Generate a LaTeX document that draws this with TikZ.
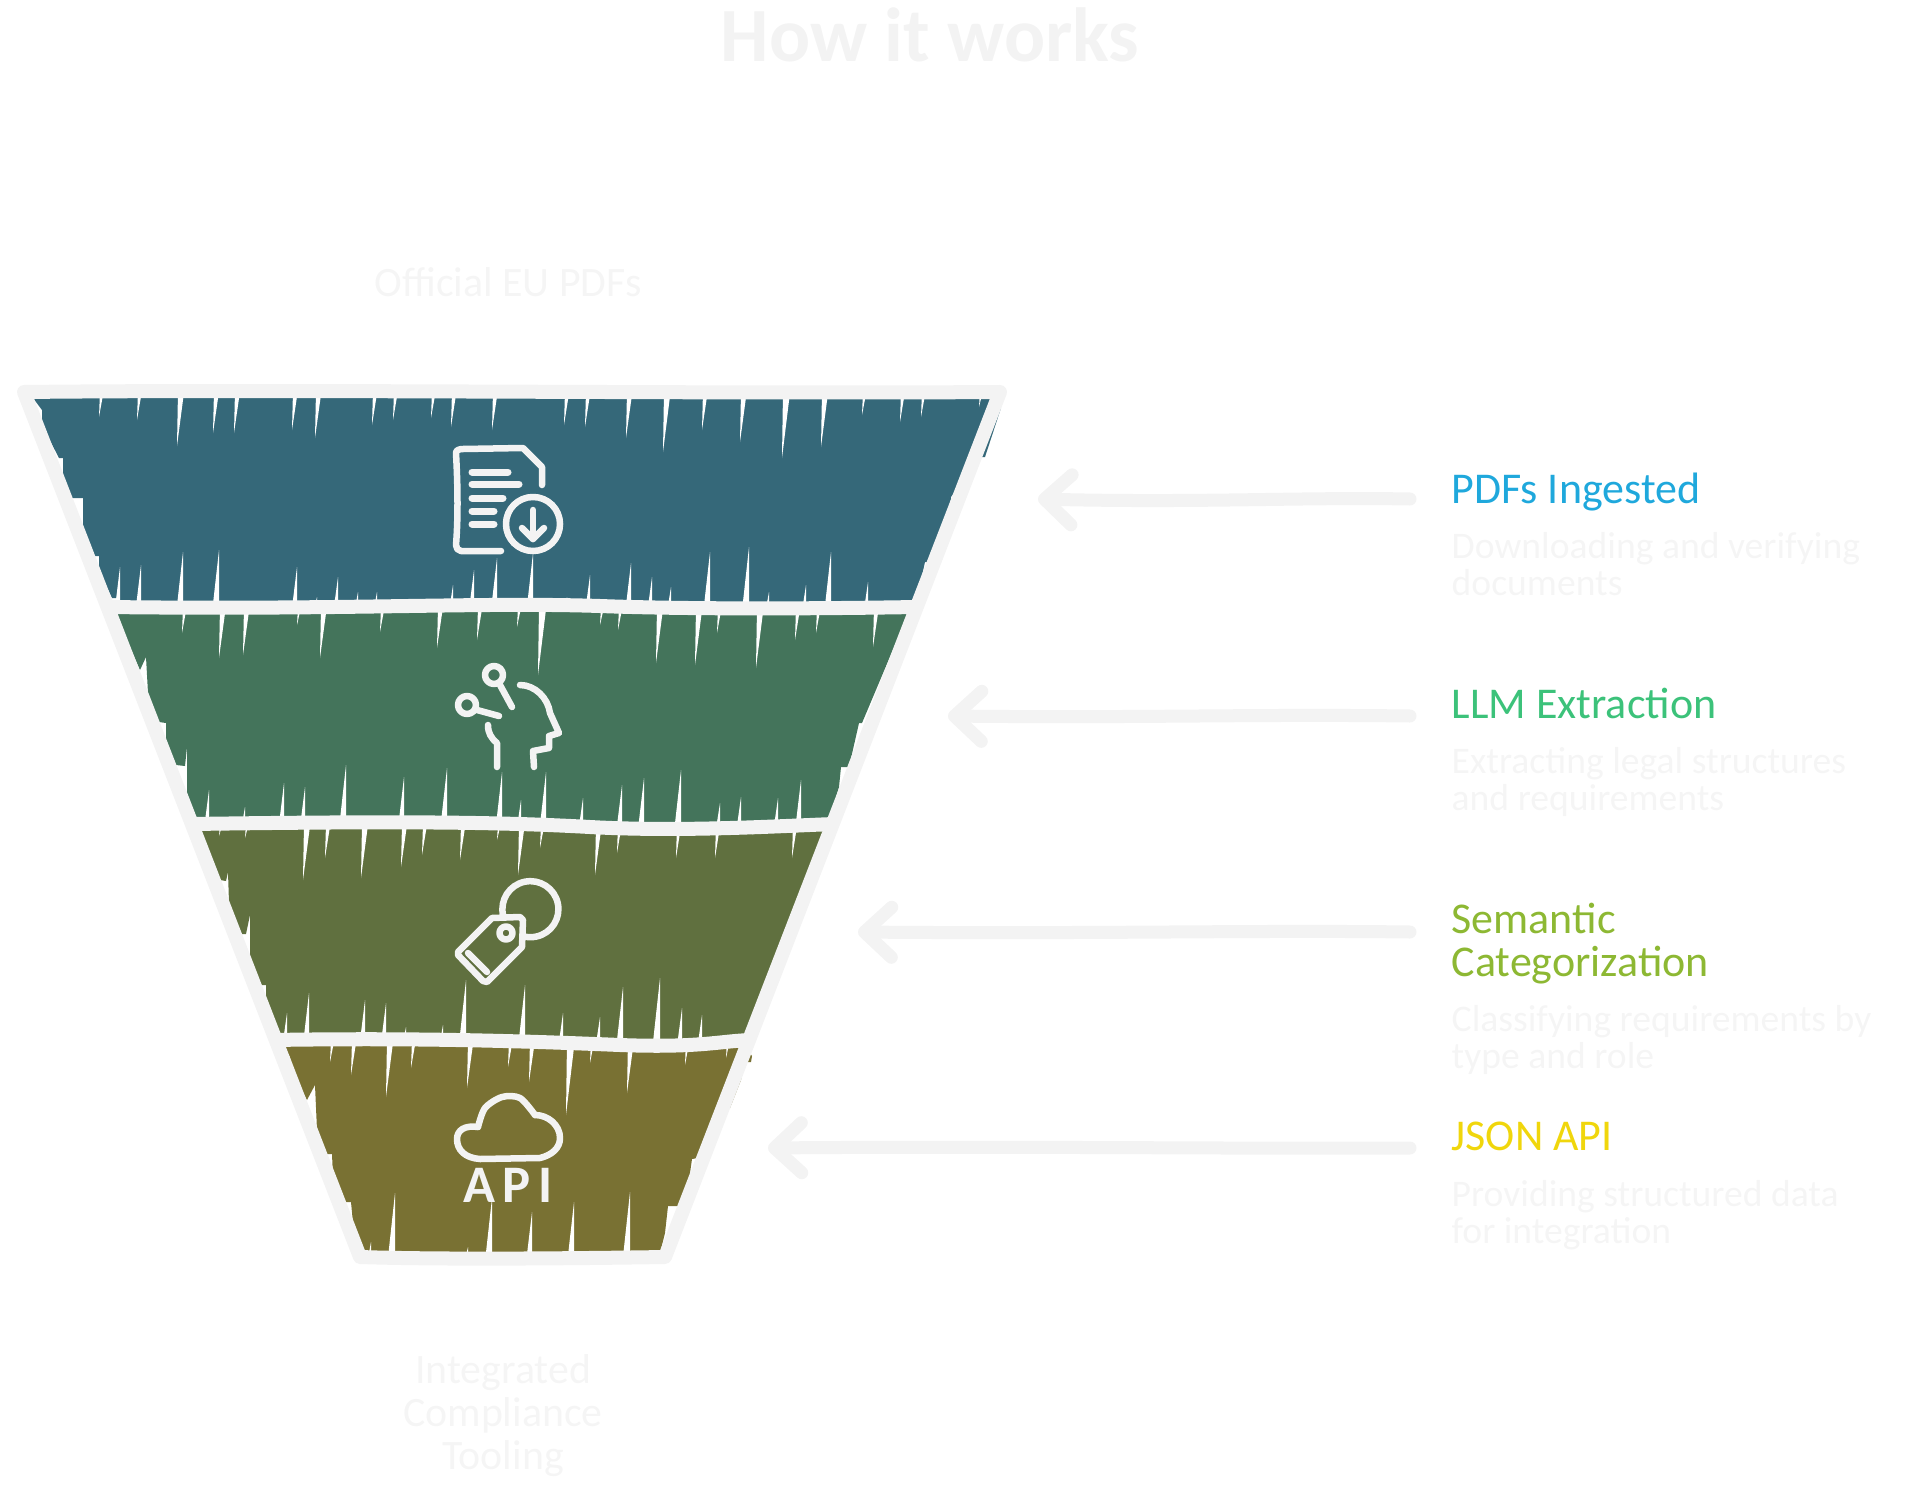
\documentclass[tikz,border=0pt]{standalone}
\usepackage{fontspec}
\setmainfont{Carlito}
\usepackage{tikz}
\usetikzlibrary{arrows.meta,positioning}
\definecolor{ghost}{HTML}{F3F3F3}
\definecolor{paletext}{HTML}{F5F5F5}
\definecolor{ingestband}{HTML}{356879}
\definecolor{extractband}{HTML}{44745B}
\definecolor{tagband}{HTML}{60703F}
\definecolor{apiband}{HTML}{797133}
\definecolor{ingesthead}{HTML}{1FA8DC}
\definecolor{extracthead}{HTML}{3CC27A}
\definecolor{taghead}{HTML}{8DB833}
\definecolor{apihead}{HTML}{F0D60C}
\newcommand{\spikesdown}[2]{%
  \foreach \sx/\sy [evaluate=\sy as \sw using {abs(\sy-#1)*0.085+0.5}] in {#2}
    \fill[white] (\sx-1,#1) -- (\sx+\sw,#1) -- (\sx-2,\sy) -- cycle;}
\newcommand{\spikesup}[2]{%
  \foreach \sx/\sy [evaluate=\sy as \sw using {abs(\sy-#1)*0.085+0.5}] in {#2}
    \fill[white] (\sx-\sw,#1) -- (\sx+1,#1) -- (\sx+1,\sy) -- cycle;}

\begin{document}
\begin{tikzpicture}[x=0.01cm,y=-0.01cm,
  outline/.style={draw=ghost,line width=0.14cm,line join=round,line cap=round},
  pointer/.style={draw=ghost,line width=0.13cm,line cap=round,-{Straight Barb[round,length=0.27cm,width=0.5cm]}},
  icon/.style={draw=ghost,line width=0.065cm,line cap=round,line join=round},
  head/.style={anchor=base west,inner sep=0pt,align=left,font=\fontsize{12.5}{11.95}\selectfont},
  descr/.style={anchor=base west,inner sep=0pt,align=left,text=paletext,font=\fontsize{10.7}{10.4}\selectfont},
  ends/.style={anchor=base,inner sep=0pt,align=center,text=paletext,font=\fontsize{11.9}{12.1}\selectfont}]
\useasboundingbox (0,0) rectangle (1915,1491);

% bands
\fill[ingestband] (28,392) -- (33,398) -- (42,410) -- (42,425) -- (59,458) -- (63,458) -- (63,480) -- (68,498) -- (83,498) -- (83,527) -- (94,556) -- (99,556) -- (99,570) -- (112,598) -- (117,598) -- (117,606) -- (912,606) -- (921,580) -- (925,562) -- (941,562) -- (944,553) -- (950,508) -- (951,497) -- (980,457) -- (985,457) -- (1001,408) -- (992,392) -- cycle;
\fill[extractband] (117,608) -- (117,614) -- (124,633) -- (140,670) -- (146,657) -- (148,693) -- (159,722) -- (166,723) -- (166,740) -- (176,765) -- (185,766) -- (187,747) -- (187,793) -- (195,815) -- (197,824) -- (829,824) -- (830,817) -- (839,787) -- (841,767) -- (849,767) -- (859,723) -- (862,723) -- (908,614) -- (911,608) -- cycle;
\fill[tagband] (198,826) -- (220,880) -- (226,881) -- (228,872) -- (229,903) -- (240,934) -- (246,934) -- (250,915) -- (250,960) -- (260,985) -- (266,985) -- (266,1003) -- (279,1034) -- (281,1040) -- (745,1040) -- (745,1034) -- (770,987) -- (776,987) -- (779,980) -- (782,945) -- (783,935) -- (810,867) -- (825,826) -- cycle;
\fill[apiband] (281,1042) -- (284,1046) -- (290,1057) -- (292,1070) -- (307,1100) -- (315,1085) -- (317,1130) -- (325,1154) -- (332,1154) -- (333,1177) -- (344,1202) -- (351,1202) -- (353,1223) -- (363,1249) -- (364,1256) -- (660,1256) -- (661,1249) -- (665,1233) -- (668,1206) -- (679,1206) -- (688,1187) -- (692,1159) -- (698,1158) -- (724,1108) -- (730,1108) -- (741,1080) -- (745,1062) -- (751,1062) -- (752,1056) -- (742,1042) -- cycle;

% hatch gaps
\spikesdown{391}{101/417,139/420,179/446,215/433,236/433,294/430,317/438,374/425,395/420,433/418,453/427,494/430,566/425,587/427,628/438,665/452,704/430,742/442,784/458,823/447,864/415,902/422,923/417,981/407}
\spikesup{607}{119/567,140/565,182/552,218/550,296/567,316/597,337/577,357/592,376/592,452/585,473/570,496/558,532/553,566/597,589/575,630/563,651/577,670/587,709/552,748/547,768/592,805/585,830/552,867/582}
\spikesdown{607}{184/633,221/658,245/655,299/625,322/658,382/632,439/648,479/640,519/627,540/675,602/625,620/630,658/663,697/665,719/633,758/668,797/640,818/633,875/647}
\spikesup{824}{208/790,244/807,283/783,304/787,345/765,403/777,446/768,501/772,520/800,545/772,582/798,621/785,643/778,680/770,719/803,740/797,777/798,800/780}
\spikesdown{824}{221/836,247/838,305/880,327/858,363/878,403/867,424/855,462/860,499/840,520/875,542/848,597/875,619/853,678/858,717/858,754/835,794/858}
\spikesup{1040}{286/1013,308/993,364/1000,385/1003,405/1027,442/1025,465/980,524/985,562/1013,599/1017,622/987,659/978,681/1008,701/1015}
\spikesdown{1040}{332/1062,353/1075,388/1097,413/1068,469/1088,510/1067,531/1082,568/1115,592/1063,629/1093,687/1065,728/1058}
\spikesup{1257}{370/1242,394/1193,467/1247,491/1198,531/1212,573/1202,629/1192}

% funnel outline and dividers
\draw[outline] (24,392) .. controls (300,389) and (700,394) .. (1000,392) -- (665,1257) .. controls (600,1258) and (450,1260) .. (360,1257) -- cycle;
\draw[outline,line cap=butt] (108,607) .. controls (350,610) and (480,602) .. (600,606) .. controls (680,609) and (800,609) .. (916,607);
\draw[outline,line cap=butt] (192,824) .. controls (400,821) and (500,822) .. (590,827) .. controls (680,832) and (780,826) .. (834,824);
\draw[outline,line cap=butt] (272,1040) .. controls (400,1038) and (500,1040) .. (620,1045) .. controls (700,1048) and (720,1041) .. (751,1040);

% document icon
\draw[icon] (542,485) -- (542,467) -- (523,448) -- (463,449) to[out=180,in=90] (456,453) .. controls (458,490) and (458,520) .. (456,545) to[out=-90,in=180] (461,551) -- (501,551);
\foreach \ly/\lx in {472/508,484/519,498/503,511/494,524/494}
  \draw[icon,line width=0.07cm] (472,\ly) -- (\lx,\ly);
\draw[icon] (533,524) circle[radius=0.27cm];
\draw[icon] (533,510) -- (533,539);
\draw[icon] (522,528) -- (533,539) -- (544,528);

% head icon
\draw[icon] (494,675) circle[radius=0.09cm];
\draw[icon] (500,685) -- (512,707);
\draw[icon] (467,705) circle[radius=0.09cm];
\draw[icon] (477,710) -- (499,716);
\draw[icon] (520,685) .. controls (535,685) and (548,698) .. (550,713) -- (559,733) -- (549,736) -- (549,748) -- (533,751) -- (534,767);
\draw[icon] (488,725) .. controls (488,733) and (491,738) .. (497,743) -- (497,767);

% tag icon
\draw[icon] (503,915) arc[start angle=192,end angle=-104,radius=0.28cm];
\draw[icon] (492,918) -- (520,917) -- (523,920) -- (522,947) -- (487,982) -- (483,981) -- (458,955) -- (458,952) -- cycle;
\draw[icon] (506,933) circle[radius=0.065cm];
\draw[icon] (468,953) -- (487,972);

% cloud icon
\draw[icon] plot[smooth] coordinates {(478,1127) (485,1108) (502,1097) (520,1098) (535,1115)};
\draw[icon] (535,1115) .. controls (548,1115) and (560,1125) .. (560,1138) .. controls (560,1148) and (552,1155) .. (540,1158) -- (480,1159) .. controls (465,1158) and (457,1150) .. (457,1139) .. controls (457,1130) and (465,1125) .. (478,1127);
\node[inner sep=0pt,text=ghost,font=\fontsize{15}{15}\selectfont\bfseries\addfontfeature{LetterSpace=14}] (apiicon) at (508,1185) {API};

% titles
\node[anchor=base,inner sep=0pt,text=ghost,font=\fontsize{21.8}{21.8}\selectfont\bfseries] (title) at (930,62) {How it works};
\node[ends] (source) at (508,297) {Official EU PDFs};
\node[ends] (sink) at (503,1469) {Integrated\\Compliance\\Tooling};

% stage labels
\node[head,text=ingesthead] (pdfs) at (1451,503) {PDFs Ingested};
\node[descr] (pdfsnote) at ([yshift=-0.92cm]pdfs.base west) {Downloading and verifying\\documents};
\node[head,text=extracthead] (llm) at (1451,718) {LLM Extraction};
\node[descr] (llmnote) at ([yshift=-0.92cm]llm.base west) {Extracting legal structures\\and requirements};
\node[head,text=taghead] (sem) at (1451,976) {Semantic\\Categorization};
\node[descr] (semnote) at ([yshift=-0.92cm]sem.base west) {Classifying requirements by\\type and role};
\node[head,text=apihead] (json) at (1451,1150) {JSON API};
\node[descr] (jsonnote) at ([yshift=-0.93cm]json.base west) {Providing structured data\\for integration};

% arrows
\coordinate (pdfsin) at (1410,499);
\coordinate (pdfstip) at (1038,499);
\coordinate (llmin) at (1410,716);
\coordinate (llmtip) at (948,716);
\coordinate (semin) at (1410,932);
\coordinate (semtip) at (858,932);
\coordinate (jsonin) at (1410,1148);
\coordinate (jsontip) at (768,1148);
\draw[pointer] (pdfsin) .. controls (1300,497) and (1200,503) .. (pdfstip);
\draw[pointer] (llmin) .. controls (1250,714) and (1150,718) .. (llmtip);
\draw[pointer] (semin) .. controls (1250,930) and (1100,934) .. (semtip);
\draw[pointer] (jsonin) .. controls (1250,1149) and (1000,1146) .. (jsontip);
\end{tikzpicture}
\end{document}
